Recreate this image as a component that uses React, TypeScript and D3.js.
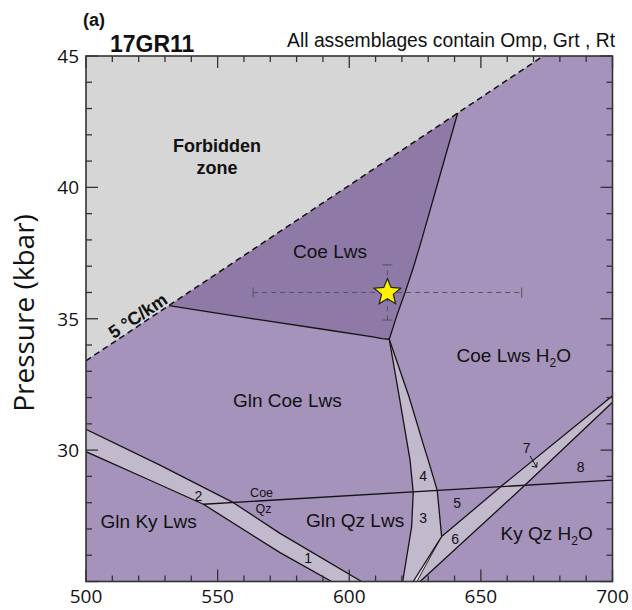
import React from 'react';
import * as d3 from 'd3';

type Pt = [number, number];

const W = 632;
const H = 610;
const T_DOMAIN: Pt = [500, 700];
const P_DOMAIN: Pt = [25, 45];
const X_TICKS = [500, 550, 600, 650, 700];
const Y_TICKS = [30, 35, 40, 45];

// 5 °C/km geotherm (T °C, P kbar)
const geotherm: Pt[] = [[500, 33.4], [673.7, 45]];

// Coe Lws field boundaries
const coeLwsRight: Pt[] = [[615.2, 34.22], [618, 35.1], [621.2, 36], [624.5, 37.0], [627.5, 38], [634, 40.3], [641.2, 42.83]];
const coeLwsBase: Pt[] = [[531.5, 35.5], [560, 35.05], [590, 34.6], [609, 34.31], [612.5, 34.24], [615.2, 34.22]];

// narrow field 3/4
const band34Left: Pt[] = [[615.2, 34.22], [619.0, 32.03], [623.1, 29.62], [624.3, 28.39], [623.7, 27.09], [620.3, 25]];
const band34Right: Pt[] = [[615.2, 34.22], [622.7, 32.03], [628.8, 30.0], [630.0, 29.62], [633.4, 28.48], [635.1, 26.71]];
const band34Tail: Pt[] = [[635.1, 26.71], [624.3, 25]];
const sliverLine: Pt[] = [[634.1, 26.54], [625.7, 25]];

// narrow field 6/7
const band67Upper: Pt[] = [[635.1, 26.71], [658.3, 28.67], [700, 32.07]];
const band67Lower: Pt[] = [[626.9, 25], [666.8, 28.67], [700, 31.82]];

// Coe = Qz reaction
const coeQz: Pt[] = [[544.6, 27.94], [700, 28.86]];

// narrow field 1/2
const band12Upper: Pt[] = [[500, 30.79], [528.1, 29.43], [556.0, 28.0], [573.7, 26.83], [604.7, 25]];
const band12Lower: Pt[] = [[500, 29.94], [522.4, 28.94], [544.6, 27.94], [573.7, 26.1], [593.3, 25]];

// sample 17GR11 estimate with uncertainty
const peak = { T: 614.5, P: 36.0, dT: 51, dP: 1.05 };

const fieldLabels = [
  { text: 'Coe Lws', T: 592.7, P: 37.3 },
  { text: 'Gln Coe Lws', T: 576.5, P: 31.63 },
  { text: 'Gln Ky Lws', T: 523.8, P: 27.02 },
  { text: 'Gln Qz Lws', T: 602.2, P: 27.09 },
];
const waterLabels = [
  { text: 'Coe Lws H', T: 662.5, P: 33.37 },
  { text: 'Ky Qz H', T: 675.0, P: 26.58 },
];
const numberLabels = [
  { text: '1', T: 584.4, P: 25.88 },
  { text: '2', T: 542.7, P: 28.25 },
  { text: '3', T: 628.1, P: 27.41 },
  { text: '4', T: 628.1, P: 29.02 },
  { text: '5', T: 641.0, P: 28.0 },
  { text: '6', T: 640.2, P: 26.61 },
  { text: '7', T: 667.4, P: 30.07 },
  { text: '8', T: 687.9, P: 29.35 },
];
const reactionLabels = [
  { text: 'Coe', T: 566.7, P: 28.38 },
  { text: 'Qz', T: 567.4, P: 27.75 },
];
const arrow7: Pt[] = [[668.7, 29.78], [671.2, 29.35]];

const C_BG = '#a593bb';
const C_DARK = '#8f7aa7';
const C_BAND = '#c3b9cd';
const C_SLIVER = '#e9e5ec';
const C_FORBID = '#d6d6d6';
const LABEL_FONT = '"Liberation Sans", Arial, sans-serif';
const AXIS_FONT = '"Open Sans", sans-serif';

export default function App() {
  const x = d3.scaleLinear().domain(T_DOMAIN).range([86, 612.5]);
  const y = d3.scaleLinear().domain(P_DOMAIN).range([581.5, 56]);
  const line = d3.line<Pt>().x((d) => x(d[0])).y((d) => y(d[1]));
  const poly = (pts: Pt[]) => line(pts) + 'Z';
  const rev = (pts: Pt[]) => pts.slice().reverse();

  const [Tmin, Tmax] = T_DOMAIN;
  const [Pmin, Pmax] = P_DOMAIN;

  const forbidden: Pt[] = [[Tmin, Pmax], geotherm[1], geotherm[0]];
  const geoSlope = (geotherm[1][1] - geotherm[0][1]) / (geotherm[1][0] - geotherm[0][0]);
  const geoAt = (T: number) => geotherm[0][1] + geoSlope * (T - geotherm[0][0]);
  const darkField: Pt[] = [coeLwsBase[0], [641.2, geoAt(641.2)], ...rev(coeLwsRight), ...rev(coeLwsBase)];
  const band12: Pt[] = [...band12Upper, ...rev(band12Lower)];
  const band34: Pt[] = [...band34Left, band34Tail[1], ...rev(band34Right)];
  const band67: Pt[] = [band34Tail[1], ...band67Upper, ...rev(band67Lower)];
  const sliver: Pt[] = [band34Tail[0], band34Tail[1], sliverLine[1], sliverLine[0]];

  const xMinor = d3.range(Tmin, Tmax + 1, 10);
  const yMinor = d3.range(Pmin, Pmax + 0.5, 1);

  const labelAngle =
    (Math.atan2(y(geotherm[1][1]) - y(geotherm[0][1]), x(geotherm[1][0]) - x(geotherm[0][0])) * 180) / Math.PI;
  const gLabelT = 521.5;

  const starPath = (() => {
    const pts: string[] = [];
    for (let i = 0; i < 10; i++) {
      const r = i % 2 === 0 ? 14 : 6.2;
      const a = -Math.PI / 2 + (i * Math.PI) / 5;
      pts.push(`${(r * Math.cos(a)).toFixed(2)},${(r * Math.sin(a)).toFixed(2)}`);
    }
    return 'M' + pts.join('L') + 'Z';
  })();

  const lineStroke = { fill: 'none', stroke: '#151515', strokeWidth: 1.3, strokeLinejoin: 'round' as const };
  const errStyle = { stroke: '#555', strokeWidth: 1, strokeDasharray: '5,4', fill: 'none' };

  return (
    <svg width={W} height={H} style={{ position: 'absolute', left: 0, top: 0, background: '#fff' }}>
      <defs>
        <clipPath id="plotClip">
          <rect x={x(Tmin)} y={y(Pmax)} width={x(Tmax) - x(Tmin)} height={y(Pmin) - y(Pmax)} />
        </clipPath>
      </defs>

      <g clipPath="url(#plotClip)">
        <rect x={x(Tmin)} y={y(Pmax)} width={x(Tmax) - x(Tmin)} height={y(Pmin) - y(Pmax)} fill={C_BG} />
        <path d={poly(darkField)} fill={C_DARK} />
        <path d={poly(forbidden)} fill={C_FORBID} />
        <path d={poly(band12)} fill={C_BAND} />
        <path d={poly(band34)} fill={C_BAND} />
        <path d={poly(band67)} fill={C_BAND} />
        <path d={poly(sliver)} fill={C_SLIVER} />

        <path d={line(coeLwsRight)!} {...lineStroke} />
        <path d={line(coeLwsBase)!} {...lineStroke} />
        <path d={line(band34Left)!} {...lineStroke} />
        <path d={line(band34Right)!} {...lineStroke} />
        <path d={line(band34Tail)!} {...lineStroke} />
        <path d={line(sliverLine)!} {...lineStroke} strokeWidth={0.9} />
        <path d={line(band67Upper)!} {...lineStroke} />
        <path d={line(band67Lower)!} {...lineStroke} />
        <path d={line(coeQz)!} {...lineStroke} />
        <path d={line(band12Upper)!} {...lineStroke} />
        <path d={line(band12Lower)!} {...lineStroke} />
        <path d={line(geotherm)!} fill="none" stroke="#111" strokeWidth={1.5} strokeDasharray="6,4" />
      </g>

      {/* frame and inward ticks */}
      <g stroke="#333" strokeWidth={1.3}>
        {xMinor.map((t) => {
          const len = t % 50 === 0 ? 12 : 6;
          return (
            <g key={'x' + t}>
              <line x1={x(t)} x2={x(t)} y1={y(Pmin)} y2={y(Pmin) - len} />
              <line x1={x(t)} x2={x(t)} y1={y(Pmax)} y2={y(Pmax) + len} />
            </g>
          );
        })}
        {yMinor.map((p) => {
          const len = p % 5 === 0 ? 12 : 6;
          return (
            <g key={'y' + p}>
              <line x1={x(Tmin)} x2={x(Tmin) + len} y1={y(p)} y2={y(p)} />
              <line x1={x(Tmax)} x2={x(Tmax) - len} y1={y(p)} y2={y(p)} />
            </g>
          );
        })}
        <rect x={x(Tmin)} y={y(Pmax)} width={x(Tmax) - x(Tmin)} height={y(Pmin) - y(Pmax)} fill="none" strokeWidth={1.6} />
      </g>

      {/* tick labels */}
      <g fontFamily={AXIS_FONT} fontSize={19} fill="#111">
        {X_TICKS.map((t) => (
          <text key={t} x={x(t)} y={603} textAnchor="middle">{t}</text>
        ))}
        {Y_TICKS.map((p) => (
          <text key={p} x={79} y={y(p)} textAnchor="end" dominantBaseline="central">{p}</text>
        ))}
      </g>
      <text transform={`translate(34,313) rotate(-90)`} textAnchor="middle" fontFamily={AXIS_FONT} fontSize={28} fill="#111">
        Pressure (kbar)
      </text>

      {/* titles */}
      <text x={83} y={26} fontFamily={LABEL_FONT} fontWeight="bold" fontSize={18} fill="#111">(a)</text>
      <text x={110} y={51.7} fontFamily={LABEL_FONT} fontWeight="bold" fontSize={23} fill="#111">17GR11</text>
      <text x={615} y={46.7} textAnchor="end" fontFamily={LABEL_FONT} fontSize={19.3} fill="#111">
        All assemblages contain Omp, Grt , Rt
      </text>

      {/* forbidden zone */}
      <g fontFamily={LABEL_FONT} fontWeight="bold" fontSize={18} fill="#111" textAnchor="middle">
        <text x={x(549.8)} y={y(41.36)}>Forbidden</text>
        <text x={x(549.8)} y={y(40.51)}>zone</text>
      </g>
      <text
        transform={`translate(${x(gLabelT)},${y(geoAt(gLabelT))}) rotate(${labelAngle})`}
        dy={-2.5}
        textAnchor="middle"
        fontFamily={LABEL_FONT}
        fontWeight="bold"
        fontSize={18}
        fill="#111"
      >
        5 °C/km
      </text>

      {/* field labels */}
      <g fontFamily={LABEL_FONT} fontSize={19} fill="#111" textAnchor="middle">
        {fieldLabels.map((l) => (
          <text key={l.text} x={x(l.T)} y={y(l.P)}>{l.text}</text>
        ))}
        {waterLabels.map((l) => (
          <text key={l.text} x={x(l.T)} y={y(l.P)}>
            {l.text}
            <tspan fontSize={12} dy={5}>2</tspan>
            <tspan dy={-5}>O</tspan>
          </text>
        ))}
      </g>
      <g fontFamily={LABEL_FONT} fontSize={14} fill="#111" textAnchor="middle">
        {numberLabels.map((l) => (
          <text key={l.text} x={x(l.T)} y={y(l.P)} dominantBaseline="central">{l.text}</text>
        ))}
      </g>
      <g fontFamily={LABEL_FONT} fontSize={12.5} fill="#111" textAnchor="middle">
        {reactionLabels.map((l) => (
          <text key={l.text} x={x(l.T)} y={y(l.P)} dominantBaseline="central">{l.text}</text>
        ))}
      </g>
      <g stroke="#111" strokeWidth={1} fill="none">
        <line x1={x(arrow7[0][0])} y1={y(arrow7[0][1])} x2={x(arrow7[1][0])} y2={y(arrow7[1][1])} />
        <path
          d={`M${x(arrow7[1][0]) - 5},${y(arrow7[1][1]) - 1} L${x(arrow7[1][0])},${y(arrow7[1][1])} L${x(arrow7[1][0]) + 0.5},${y(arrow7[1][1]) - 5}`}
        />
      </g>

      {/* P–T estimate with error bars */}
      <g {...errStyle}>
        <line x1={x(peak.T - peak.dT)} x2={x(peak.T + peak.dT)} y1={y(peak.P)} y2={y(peak.P)} />
        <line x1={x(peak.T)} x2={x(peak.T)} y1={y(peak.P - peak.dP)} y2={y(peak.P + peak.dP)} />
      </g>
      <g stroke="#555" strokeWidth={1}>
        <line x1={x(peak.T - peak.dT)} x2={x(peak.T - peak.dT)} y1={y(peak.P) - 5} y2={y(peak.P) + 5} />
        <line x1={x(peak.T + peak.dT)} x2={x(peak.T + peak.dT)} y1={y(peak.P) - 5} y2={y(peak.P) + 5} />
        <line x1={x(peak.T) - 5} x2={x(peak.T) + 5} y1={y(peak.P + peak.dP)} y2={y(peak.P + peak.dP)} />
        <line x1={x(peak.T) - 5} x2={x(peak.T) + 5} y1={y(peak.P - peak.dP)} y2={y(peak.P - peak.dP)} />
      </g>
      <path
        d={starPath}
        transform={`translate(${x(peak.T)},${y(peak.P)})`}
        fill="#fff200"
        stroke="#222"
        strokeWidth={1.2}
        strokeLinejoin="miter"
      />
    </svg>
  );
}
